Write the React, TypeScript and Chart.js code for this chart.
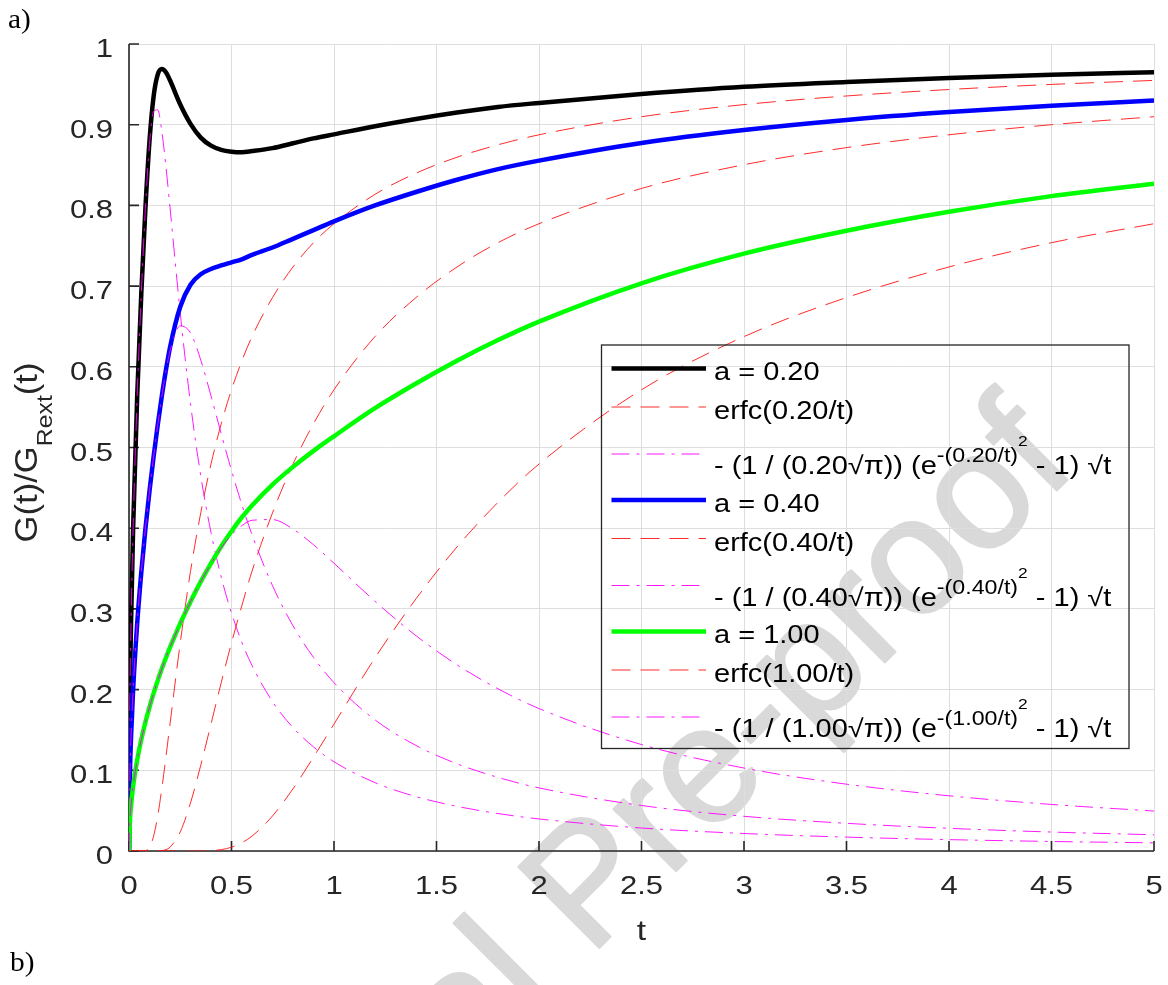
import React, { useEffect, useRef } from "react";
import { Chart, registerables } from "chart.js";

Chart.register(...registerables);

// ---------------- data ----------------
const T = [0, 0.005, 0.01, 0.02, 0.04, 0.06, 0.08, 0.1, 0.12, 0.14, 0.16, 0.18, 0.2, 0.25, 0.3, 0.35, 0.4, 0.45, 0.5, 0.55, 0.6, 0.7, 0.8, 0.9, 1.0, 1.2, 1.4, 1.6, 1.8, 2.0, 2.5, 3.0, 3.5, 4.0, 4.5, 5.0];

const G_A020 = [0, 0.1995, 0.282, 0.399, 0.564, 0.691, 0.796, 0.880, 0.935, 0.962, 0.969, 0.965, 0.955, 0.925, 0.901, 0.884, 0.874, 0.8688, 0.8666, 0.8659, 0.8673, 0.871, 0.877, 0.883, 0.888, 0.898, 0.907, 0.915, 0.922, 0.927, 0.938, 0.947, 0.953, 0.958, 0.962, 0.965];
const ERFC_A020 = [0, 0, 0, 0, 0, 0, 0.0004, 0.0047, 0.0184, 0.0434, 0.0771, 0.1163, 0.1573, 0.2579, 0.3466, 0.419, 0.4795, 0.5295, 0.5716, 0.6069, 0.6374, 0.6858, 0.7237, 0.7538, 0.7773, 0.8137, 0.8399, 0.8597, 0.8751, 0.8875, 0.9099, 0.9249, 0.9356, 0.9436, 0.9499, 0.9549];
const TERM_A020 = [0, 0.1995, 0.2821, 0.399, 0.5642, 0.691, 0.796, 0.8757, 0.9165, 0.9185, 0.8919, 0.8486, 0.7975, 0.6667, 0.5544, 0.465, 0.3947, 0.3393, 0.295, 0.259, 0.2299, 0.1851, 0.1529, 0.129, 0.1106, 0.0847, 0.0674, 0.0553, 0.0464, 0.0397, 0.0285, 0.0217, 0.0172, 0.0141, 0.0118, 0.0101];

const G_A040 = [0, 0.0997, 0.141, 0.1995, 0.2821, 0.3455, 0.399, 0.446, 0.4886, 0.5277, 0.5635, 0.5958, 0.624, 0.6744, 0.7016, 0.7147, 0.7212, 0.7256, 0.7294, 0.7332, 0.7386, 0.7478, 0.7586, 0.7694, 0.7802, 0.7999, 0.8166, 0.8318, 0.845, 0.8555, 0.8774, 0.8934, 0.9059, 0.9156, 0.9235, 0.93];
const ERFC_A040 = [0, 0, 0, 0, 0, 0, 0, 0, 0, 0, 0.0004, 0.0017, 0.0047, 0.0237, 0.0596, 0.1063, 0.1573, 0.2088, 0.2579, 0.3036, 0.3466, 0.419, 0.4795, 0.5295, 0.5716, 0.6374, 0.6858, 0.7237, 0.7538, 0.7773, 0.821, 0.8504, 0.8716, 0.8875, 0.9, 0.9099];
const TERM_A040 = [0, 0.0997, 0.141, 0.1995, 0.2821, 0.3455, 0.3989, 0.446, 0.4886, 0.5277, 0.5631, 0.5941, 0.6193, 0.6507, 0.642, 0.6084, 0.5639, 0.5168, 0.4715, 0.4296, 0.392, 0.3288, 0.2791, 0.2399, 0.2086, 0.1625, 0.1308, 0.1081, 0.0912, 0.0782, 0.0564, 0.043, 0.0343, 0.0281, 0.0235, 0.0201];

const G_A100 = [0, 0.0399, 0.0564, 0.0798, 0.1128, 0.1382, 0.1596, 0.1784, 0.1954, 0.2111, 0.2257, 0.2394, 0.2523, 0.2821, 0.309, 0.3338, 0.3565, 0.3775, 0.3963, 0.4133, 0.4282, 0.4541, 0.476, 0.4958, 0.5139, 0.5487, 0.5793, 0.6075, 0.6331, 0.656, 0.7035, 0.7402, 0.7686, 0.7921, 0.8115, 0.8268];
const ERFC_A100 = [0, 0, 0, 0, 0, 0, 0, 0, 0, 0, 0, 0, 0, 0, 0, 0, 0.0004, 0.0017, 0.0047, 0.0102, 0.0184, 0.0434, 0.0771, 0.1163, 0.1573, 0.2393, 0.3125, 0.3768, 0.4321, 0.4795, 0.5716, 0.6374, 0.6858, 0.7237, 0.7538, 0.7773];
const TERM_A100 = [0, 0.0399, 0.0564, 0.0798, 0.1128, 0.1382, 0.1596, 0.1784, 0.1954, 0.2111, 0.2257, 0.2394, 0.2523, 0.2821, 0.309, 0.3338, 0.3561, 0.3758, 0.3916, 0.4031, 0.4098, 0.4107, 0.3989, 0.3795, 0.3566, 0.3094, 0.2668, 0.2307, 0.201, 0.1765, 0.1319, 0.1028, 0.0828, 0.0684, 0.0577, 0.0495];

const A_LABELS = ["0.20", "0.40", "1.00"];
const X_TICKS = [0, 0.5, 1, 1.5, 2, 2.5, 3, 3.5, 4, 4.5, 5];
const X_TICK_LABELS = ["0", "0.5", "1", "1.5", "2", "2.5", "3", "3.5", "4", "4.5", "5"];
const Y_TICKS = [0, 0.1, 0.2, 0.3, 0.4, 0.5, 0.6, 0.7, 0.8, 0.9, 1];
const Y_TICK_LABELS = ["0", "0.1", "0.2", "0.3", "0.4", "0.5", "0.6", "0.7", "0.8", "0.9", "1"];
const X_TITLE = "t";
const WATERMARK = "Journal Pre-proof";

// ---------------- styles ----------------
const FONT = '"Liberation Sans", Arial, Helvetica, sans-serif';
const SERIF = '"Liberation Serif", "Times New Roman", serif';
const AXIS_COLOR = "#262626";
const GRID_COLOR = "#dedede";
const RED = "rgba(255,20,20,0.9)";
const MAGENTA = "rgba(255,0,255,0.9)";
const SOLID_COLORS = ["#000000", "#0000ff", "#00ff00"];
const DASH = [19, 10];
const DASHDOT = [18, 7, 3, 7];

type Kind = "solid" | "dash" | "dashdot";
const GROUPS = [
  { a: A_LABELS[0], g: G_A020, e: ERFC_A020, m: TERM_A020, color: SOLID_COLORS[0] },
  { a: A_LABELS[1], g: G_A040, e: ERFC_A040, m: TERM_A040, color: SOLID_COLORS[1] },
  { a: A_LABELS[2], g: G_A100, e: ERFC_A100, m: TERM_A100, color: SOLID_COLORS[2] },
];

function styleOf(kind: Kind, color: string) {
  if (kind === "solid") return { borderColor: color, borderWidth: 4.5, borderDash: [] as number[] };
  if (kind === "dash") return { borderColor: RED, borderWidth: 1, borderDash: DASH };
  return { borderColor: MAGENTA, borderWidth: 1, borderDash: DASHDOT };
}

function buildDatasets() {
  const out: any[] = [];
  let idx = 0;
  GROUPS.forEach((gr) => {
    const items: [number[], Kind][] = [
      [gr.g, "solid"],
      [gr.e, "dash"],
      [gr.m, "dashdot"],
    ];
    items.forEach(([arr, kind]) => {
      const st = styleOf(kind, gr.color);
      out.push({
        data: T.map((t, i) => ({ x: t, y: arr[i] })),
        borderColor: st.borderColor,
        borderWidth: st.borderWidth,
        borderDash: st.borderDash,
        pointRadius: 0,
        fill: false,
        cubicInterpolationMode: "monotone",
        order: 20 - idx,
      });
      idx++;
    });
  });
  return out;
}

// draw horizontally stretched text, return drawn width
function stext(ctx: CanvasRenderingContext2D, s: string, x: number, y: number, size: number, sx: number, family = FONT) {
  ctx.save();
  ctx.font = `${size}px ${family}`;
  ctx.textAlign = "left";
  ctx.textBaseline = "alphabetic";
  const w = ctx.measureText(s).width * sx;
  ctx.translate(x, y);
  ctx.scale(sx, 1);
  ctx.fillText(s, 0, 0);
  ctx.restore();
  return w;
}
function swidth(ctx: CanvasRenderingContext2D, s: string, size: number, sx: number, family = FONT) {
  ctx.save();
  ctx.font = `${size}px ${family}`;
  const w = ctx.measureText(s).width * sx;
  ctx.restore();
  return w;
}

const TICK_SIZE = 25;
const TICK_SX = 1.24;
const LEG_SIZE = 25;
const LEG_SX = 1.16;

const decor = {
  id: "decor",
  beforeDraw(chart: any) {
    const ctx: CanvasRenderingContext2D = chart.ctx;
    ctx.save();
    ctx.fillStyle = "#ffffff";
    ctx.fillRect(0, 0, chart.width, chart.height);
    // watermark
    ctx.fillStyle = "#d9d9d9";
    ctx.strokeStyle = "#d9d9d9";
    ctx.lineWidth = 2.5;
    ctx.lineJoin = "round";
    ctx.font = `166px ${FONT}`;
    ctx.textAlign = "right";
    ctx.textBaseline = "alphabetic";
    ctx.translate(1079, 468);
    ctx.rotate((-45 * Math.PI) / 180);
    ctx.fillText(WATERMARK, 0, 0);
    ctx.strokeText(WATERMARK, 0, 0);
    ctx.restore();
  },
  beforeDatasetsDraw(chart: any) {
    const ctx: CanvasRenderingContext2D = chart.ctx;
    const a = chart.chartArea;
    const xs = chart.scales.x;
    const ys = chart.scales.y;
    ctx.save();
    ctx.strokeStyle = AXIS_COLOR;
    ctx.lineWidth = 1.6;
    ctx.beginPath();
    ctx.moveTo(a.left, a.top);
    ctx.lineTo(a.left, a.bottom);
    ctx.lineTo(a.right, a.bottom);
    ctx.stroke();
    ctx.beginPath();
    X_TICKS.forEach((v) => {
      const px = xs.getPixelForValue(v);
      ctx.moveTo(px, a.bottom);
      ctx.lineTo(px, a.bottom - 10);
    });
    Y_TICKS.forEach((v) => {
      const py = ys.getPixelForValue(v);
      ctx.moveTo(a.left, py);
      ctx.lineTo(a.left + 10, py);
    });
    ctx.stroke();
    ctx.restore();
  },
  afterDraw(chart: any) {
    const ctx: CanvasRenderingContext2D = chart.ctx;
    const a = chart.chartArea;
    const xs = chart.scales.x;
    const ys = chart.scales.y;
    ctx.save();
    ctx.fillStyle = AXIS_COLOR;
    // x tick labels
    X_TICKS.forEach((v, i) => {
      const px = xs.getPixelForValue(v);
      const w = swidth(ctx, X_TICK_LABELS[i], TICK_SIZE, TICK_SX);
      stext(ctx, X_TICK_LABELS[i], px - w / 2, a.bottom + 43, TICK_SIZE, TICK_SX);
    });
    // y tick labels
    Y_TICKS.forEach((v, i) => {
      const py = ys.getPixelForValue(v);
      const w = swidth(ctx, Y_TICK_LABELS[i], TICK_SIZE, TICK_SX);
      stext(ctx, Y_TICK_LABELS[i], a.left - 16 - w, py + 13, TICK_SIZE, TICK_SX);
    });
    // x title
    {
      const w = swidth(ctx, X_TITLE, 28, 1.2);
      stext(ctx, X_TITLE, (a.left + a.right) / 2 - w / 2, a.bottom + 89, 28, 1.2);
    }
    // y title (rotated, with subscript)
    {
      const main1 = "G(t)/G";
      const sub = "Rext";
      const main2 = "(t)";
      ctx.save();
      ctx.font = `28px ${FONT}`;
      const w1 = ctx.measureText(main1).width;
      const w3 = ctx.measureText(main2).width;
      ctx.font = `20px ${FONT}`;
      const w2 = ctx.measureText(sub).width;
      const L = w1 + w2 + w3;
      const sAlong = 180 / L;
      ctx.translate(37, (a.top + a.bottom) / 2 + 5);
      ctx.rotate(-Math.PI / 2);
      ctx.scale(sAlong, 1.1);
      ctx.textBaseline = "alphabetic";
      ctx.textAlign = "left";
      let x = -L / 2;
      ctx.font = `28px ${FONT}`;
      ctx.fillText(main1, x, 0);
      x += w1;
      ctx.font = `20px ${FONT}`;
      ctx.fillText(sub, x, 14);
      x += w2;
      ctx.font = `28px ${FONT}`;
      ctx.fillText(main2, x, 0);
      ctx.restore();
    }
    // panel letters
    ctx.fillStyle = "#000000";
    stext(ctx, "a)", 8, 28, 28, 1.05, SERIF);
    stext(ctx, "b)", 10, 971, 28, 1.05, SERIF);

    // legend
    const LX0 = 601.5, LY0 = 345, LX1 = 1129, LY1 = 748.5;
    ctx.strokeStyle = AXIS_COLOR;
    ctx.lineWidth = 1.3;
    ctx.strokeRect(LX0, LY0, LX1 - LX0, LY1 - LY0);
    const sampleX0 = 611.5, sampleX1 = 706, textX = 714;
    GROUPS.forEach((gr, gi) => {
      const base = 380 + gi * 131.5;
      const rows: { kind: Kind; lineY: number; textY: number }[] = [
        { kind: "solid", lineY: base - 11.5, textY: base },
        { kind: "dash", lineY: base + 27, textY: base + 39 },
        { kind: "dashdot", lineY: base + 74, textY: base + 94 },
      ];
      rows.forEach((r) => {
        const st = styleOf(r.kind, gr.color);
        ctx.save();
        ctx.strokeStyle = st.borderColor;
        ctx.lineWidth = st.borderWidth;
        ctx.setLineDash(st.borderDash);
        ctx.beginPath();
        ctx.moveTo(sampleX0, r.lineY);
        ctx.lineTo(sampleX1, r.lineY);
        ctx.stroke();
        ctx.restore();
        ctx.fillStyle = "#000000";
        if (r.kind === "solid") {
          stext(ctx, `a = ${gr.a}`, textX, r.textY, LEG_SIZE, LEG_SX);
        } else if (r.kind === "dash") {
          stext(ctx, `erfc(${gr.a}/t)`, textX, r.textY, LEG_SIZE, LEG_SX);
        } else {
          let x = textX;
          x += stext(ctx, `- (1 / (${gr.a}\u221A\u03C0)) (e`, x, r.textY, LEG_SIZE, LEG_SX);
          x += stext(ctx, `-(${gr.a}/t)`, x, r.textY - 12, 20, LEG_SX);
          x += stext(ctx, "2", x, r.textY - 28, 15, LEG_SX);
          stext(ctx, " - 1) \u221At", x, r.textY, LEG_SIZE, LEG_SX);
        }
      });
    });
    ctx.restore();
  },
};

export default function App() {
  const ref = useRef<HTMLCanvasElement>(null);
  useEffect(() => {
    document.body.style.margin = "0";
    const canvas = ref.current!;
    const chart = new Chart(canvas, {
      type: "line",
      data: { datasets: buildDatasets() },
      options: {
        responsive: false,
        animation: false,
        devicePixelRatio: 1,
        layout: { padding: { top: 44, right: 14, left: 0, bottom: 0 } },
        plugins: { legend: { display: false }, tooltip: { enabled: false } },
        elements: { point: { radius: 0 } },
        scales: {
          x: {
            type: "linear",
            min: 0,
            max: 5,
            ticks: { display: false, stepSize: 0.5 },
            grid: { color: GRID_COLOR, drawTicks: false, lineWidth: 1 },
            border: { display: false },
            afterFit: (s: any) => {
              s.height = 134;
            },
          },
          y: {
            type: "linear",
            min: 0,
            max: 1,
            ticks: { display: false, stepSize: 0.1 },
            grid: { color: GRID_COLOR, drawTicks: false, lineWidth: 1 },
            border: { display: false },
            afterFit: (s: any) => {
              s.width = 129;
            },
          },
        },
      } as any,
      plugins: [decor],
    });
    return () => chart.destroy();
  }, []);
  return <canvas ref={ref} width={1168} height={985} style={{ display: "block" }} />;
}
